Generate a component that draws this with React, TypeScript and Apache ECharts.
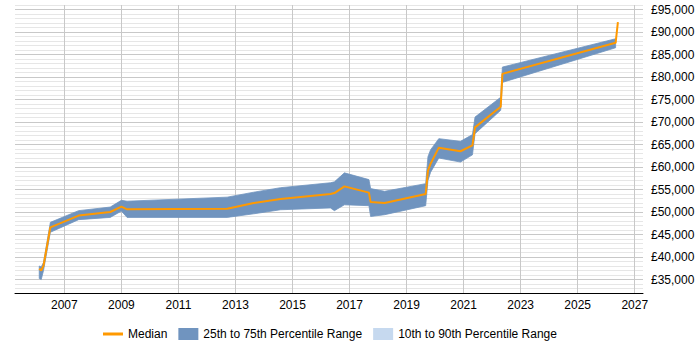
import React, { useEffect, useRef } from "react";
import * as echarts from "echarts";

// Sample dates as decimal years, with the salary percentiles at each one.
const years = [
  2006.12, 2006.19, 2006.27, 2006.51, 2007.5, 2008.61, 2009.0, 2009.2, 2012.71, 2013.64,
  2014.58, 2016.33, 2016.47, 2016.82, 2017.68, 2017.74, 2018.23, 2019.67, 2019.75, 2019.84,
  2020.13, 2020.89, 2021.31, 2021.4, 2022.3, 2022.36, 2026.33, 2026.41,
];
const median = [
  37400, 37000, 38100, 46600, 49200, 50000, 51200, 50600, 50700, 52000,
  52900, 54000, 54200, 55700, 54300, 52200, 52000, 54000, 59200, 60700,
  64300, 63500, 64800, 68800, 73400, 80700, 87600, 92200,
];
const p25 = [
  35200, 35000, 37000, 45500, 48300, 48800, 50200, 48800, 48800, 49600,
  50500, 50900, 50300, 51600, 51400, 49000, 49400, 51400, 57000, 58800,
  62000, 61100, 62700, 67400, 72600, 78800, 86500, null,
];
const p75 = [
  38000, 37800, 38800, 47700, 50300, 51100, 52600, 52400, 53300, 54400,
  55400, 56500, 56700, 58700, 57200, 55200, 54600, 56300, 62300, 63800,
  66300, 65700, 67200, 71100, 75500, 82200, 88500, null,
];

const yearTicks = [2007, 2009, 2011, 2013, 2015, 2017, 2019, 2021, 2023, 2025, 2027];

const MEDIAN = "Median";
const IQR = "25th to 75th Percentile Range";
const DECILE = "10th to 90th Percentile Range";

const ORANGE = "#ff9900";
const BAND = "#7094bf";
const BAND_LIGHT = "#c6d9ef";
const FONT = "'Liberation Sans', Arial, sans-serif";

export default function App() {
  const ref = useRef<HTMLDivElement>(null);

  useEffect(() => {
    if (!ref.current) return;
    const chart = echarts.init(ref.current, undefined, { renderer: "svg" });

    const bandRows = years
      .map((y, i) => [y, p25[i], p75[i]])
      .filter((r) => r[1] != null && r[2] != null) as number[][];
    const medianData = years.map((y, i) => [y, median[i]]);

    // One polygon: along the 75th percentile, back along the 25th.
    const renderBand = (params: any, api: any) => {
      if (params.dataIndex !== 0) return null;
      const upper = bandRows.map((r) => api.coord([r[0], r[2]]));
      const lower = bandRows.map((r) => api.coord([r[0], r[1]])).reverse();
      return {
        type: "polygon",
        shape: { points: upper.concat(lower) },
        style: { fill: BAND, stroke: BAND, lineWidth: 0.8, lineJoin: "round" },
      };
    };

    chart.setOption({
      animation: false,
      textStyle: { fontFamily: FONT },
      grid: { left: 15, right: 57, top: 5, bottom: 57, outerBoundsMode: "none" },
      legend: {
        left: 103,
        top: 328,
        padding: 0,
        itemWidth: 20,
        itemHeight: 12,
        itemGap: 11,
        itemStyle: { borderWidth: 0 },
        textStyle: { fontSize: 12, color: "#000", fontFamily: FONT },
        data: [
          { name: MEDIAN, icon: "path://M0,0L20,0L20,3L0,3Z" },
          { name: IQR, icon: "rect" },
          { name: DECILE, icon: "rect" },
        ],
      },
      xAxis: {
        type: "value",
        min: 2005.27,
        max: 2027.29,
        axisLine: { show: true, lineStyle: { color: "#000", width: 1 } },
        axisTick: { show: false, customValues: yearTicks },
        axisLabel: {
          customValues: yearTicks,
          formatter: (v: number) => String(Math.round(v)),
          fontSize: 12,
          color: "#000",
          margin: 6,
          fontFamily: FONT,
        },
        splitLine: { show: true, lineStyle: { color: "#c8c8c8", width: 1 } },
      },
      yAxis: {
        type: "value",
        position: "right",
        min: 32000,
        max: 96000,
        interval: 1000,
        axisLine: { show: false },
        axisTick: { show: false },
        axisLabel: {
          fontSize: 12,
          color: "#000",
          margin: 8,
          fontFamily: FONT,
          formatter: (v: number) =>
            v % 5000 === 0 ? "£" + v.toLocaleString("en-GB") : "",
        },
        splitLine: {
          show: true,
          lineStyle: {
            color: ["#e6e6e6", "#e6e6e6", "#e6e6e6", "#c8c8c8", "#e6e6e6"],
            width: 1,
          },
        },
      },
      series: [
        {
          name: IQR,
          type: "custom",
          data: bandRows,
          encode: { x: 0, y: [1, 2] },
          renderItem: renderBand,
          itemStyle: { color: BAND },
          silent: true,
          z: 2,
        },
        {
          name: DECILE,
          type: "line",
          data: [],
          symbol: "none",
          itemStyle: { color: BAND_LIGHT },
          lineStyle: { width: 0, color: BAND_LIGHT },
          areaStyle: { color: BAND_LIGHT },
          z: 1,
        },
        {
          name: MEDIAN,
          type: "line",
          data: medianData,
          symbol: "none",
          itemStyle: { color: ORANGE },
          lineStyle: { color: ORANGE, width: 2 },
          z: 3,
        },
      ],
    });

    return () => chart.dispose();
  }, []);

  return <div ref={ref} style={{ width: 700, height: 350, position: "absolute", left: 0, top: 0 }} />;
}
